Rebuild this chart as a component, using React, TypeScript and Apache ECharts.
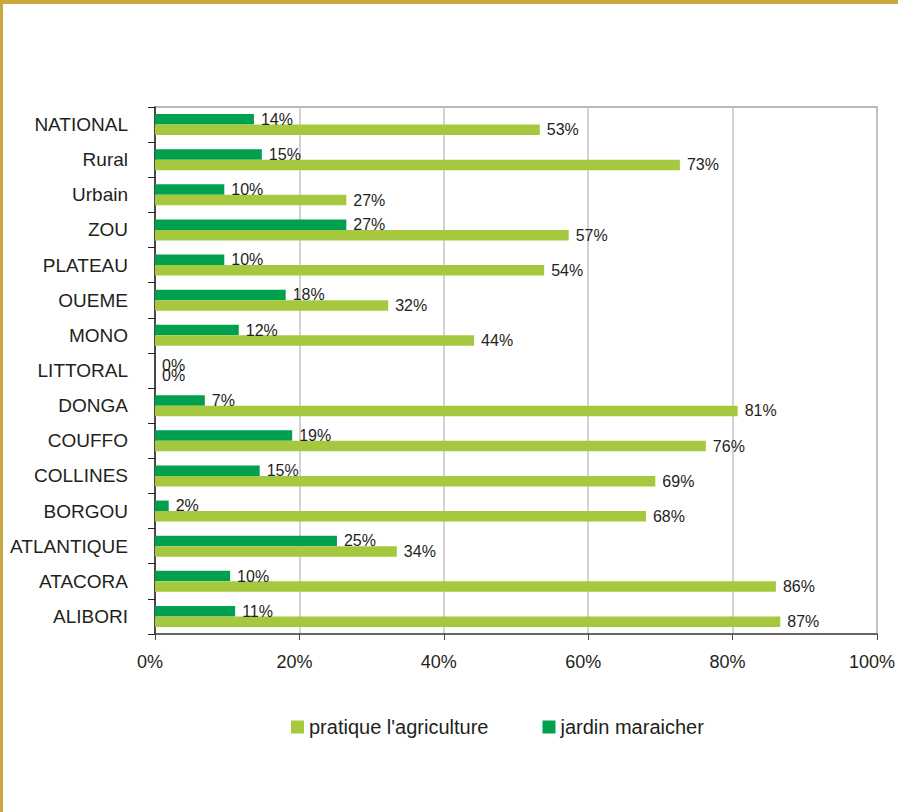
import React, { useEffect, useRef } from "react";
import * as echarts from "echarts";

const categories = [
  "NATIONAL", "Rural", "Urbain", "ZOU", "PLATEAU", "OUEME", "MONO", "LITTORAL",
  "DONGA", "COUFFO", "COLLINES", "BORGOU", "ATLANTIQUE", "ATACORA", "ALIBORI",
];
const pratiqueAgriculture = [53.3, 72.7, 26.5, 57.3, 53.9, 32.3, 44.2, 0, 80.7, 76.3, 69.3, 68.0, 33.5, 86.0, 86.6];
const jardinMaraicher = [13.7, 14.8, 9.6, 26.5, 9.6, 18.1, 11.6, 0, 6.9, 19.0, 14.5, 1.9, 25.2, 10.4, 11.1];
const xTicks = [0, 20, 40, 60, 80, 100];

const FONT = "'Liberation Sans', Arial, Helvetica, sans-serif";

export default function App() {
  const ref = useRef<HTMLDivElement>(null);
  useEffect(() => {
    document.body.style.margin = "0";
    if (!ref.current) return;
    const chart = echarts.init(ref.current, undefined, { renderer: "svg" });
    const label = {
      show: true,
      position: "right",
      distance: 7,
      fontSize: 16,
      color: "#231f20",
      fontFamily: FONT,
      formatter: (p: any) => Math.round(p.value) + "%",
    };
    chart.setOption({
      animation: false,
      backgroundColor: "#ffffff",
      textStyle: { fontFamily: FONT },
      graphic: [
        { type: "rect", shape: { x: 0, y: 0, width: 898, height: 4 }, style: { fill: "#c9a83e" } },
        { type: "rect", shape: { x: 0, y: 0, width: 3, height: 812 }, style: { fill: "#c9a83e" } },
      ],
      grid: {
        left: 155,
        right: 21,
        top: 107,
        bottom: 178,
        show: true,
        borderColor: "#a3a3a3",
        borderWidth: 1.5,
        containLabel: false,
      },
      legend: {
        data: ["pratique l'agriculture", "jardin maraicher"],
        left: 291,
        top: 717,
        padding: 0,
        itemWidth: 13,
        itemHeight: 13,
        itemGap: 54,
        icon: "rect",
        textStyle: { fontSize: 20, color: "#231f20", fontFamily: FONT },
      },
      xAxis: {
        type: "value",
        min: 0,
        max: 100,
        interval: 20,
        axisLine: { show: true, lineStyle: { color: "#4a4a4a", width: 1.5 } },
        axisTick: { show: true, length: 6, lineStyle: { color: "#4a4a4a" } },
        splitLine: { show: true, lineStyle: { color: "#c4c4c4", width: 1.5 } },
        axisLabel: {
          fontSize: 18,
          color: "#231f20",
          margin: 19,
          padding: [0, 10, 0, 0],
          fontFamily: FONT,
          formatter: (v: number) => (xTicks.includes(v) ? v + "%" : ""),
        },
      },
      yAxis: {
        type: "category",
        data: categories,
        inverse: true,
        axisLine: { show: true, lineStyle: { color: "#231f20", width: 1.5 } },
        axisTick: { show: true, length: 7, lineStyle: { color: "#231f20" } },
        axisLabel: { fontSize: 19, color: "#231f20", margin: 27, fontFamily: FONT },
      },
      series: [
        {
          name: "jardin maraicher",
          type: "bar",
          data: jardinMaraicher,
          barWidth: 10.5,
          barGap: "0%",
          itemStyle: { color: "#00a04f" },
          label,
        },
        {
          name: "pratique l'agriculture",
          type: "bar",
          data: pratiqueAgriculture,
          barWidth: 10.5,
          barGap: "0%",
          itemStyle: { color: "#a6c83e" },
          label,
        },
      ],
    });
    return () => chart.dispose();
  }, []);
  return <div ref={ref} style={{ width: 898, height: 812 }} />;
}
